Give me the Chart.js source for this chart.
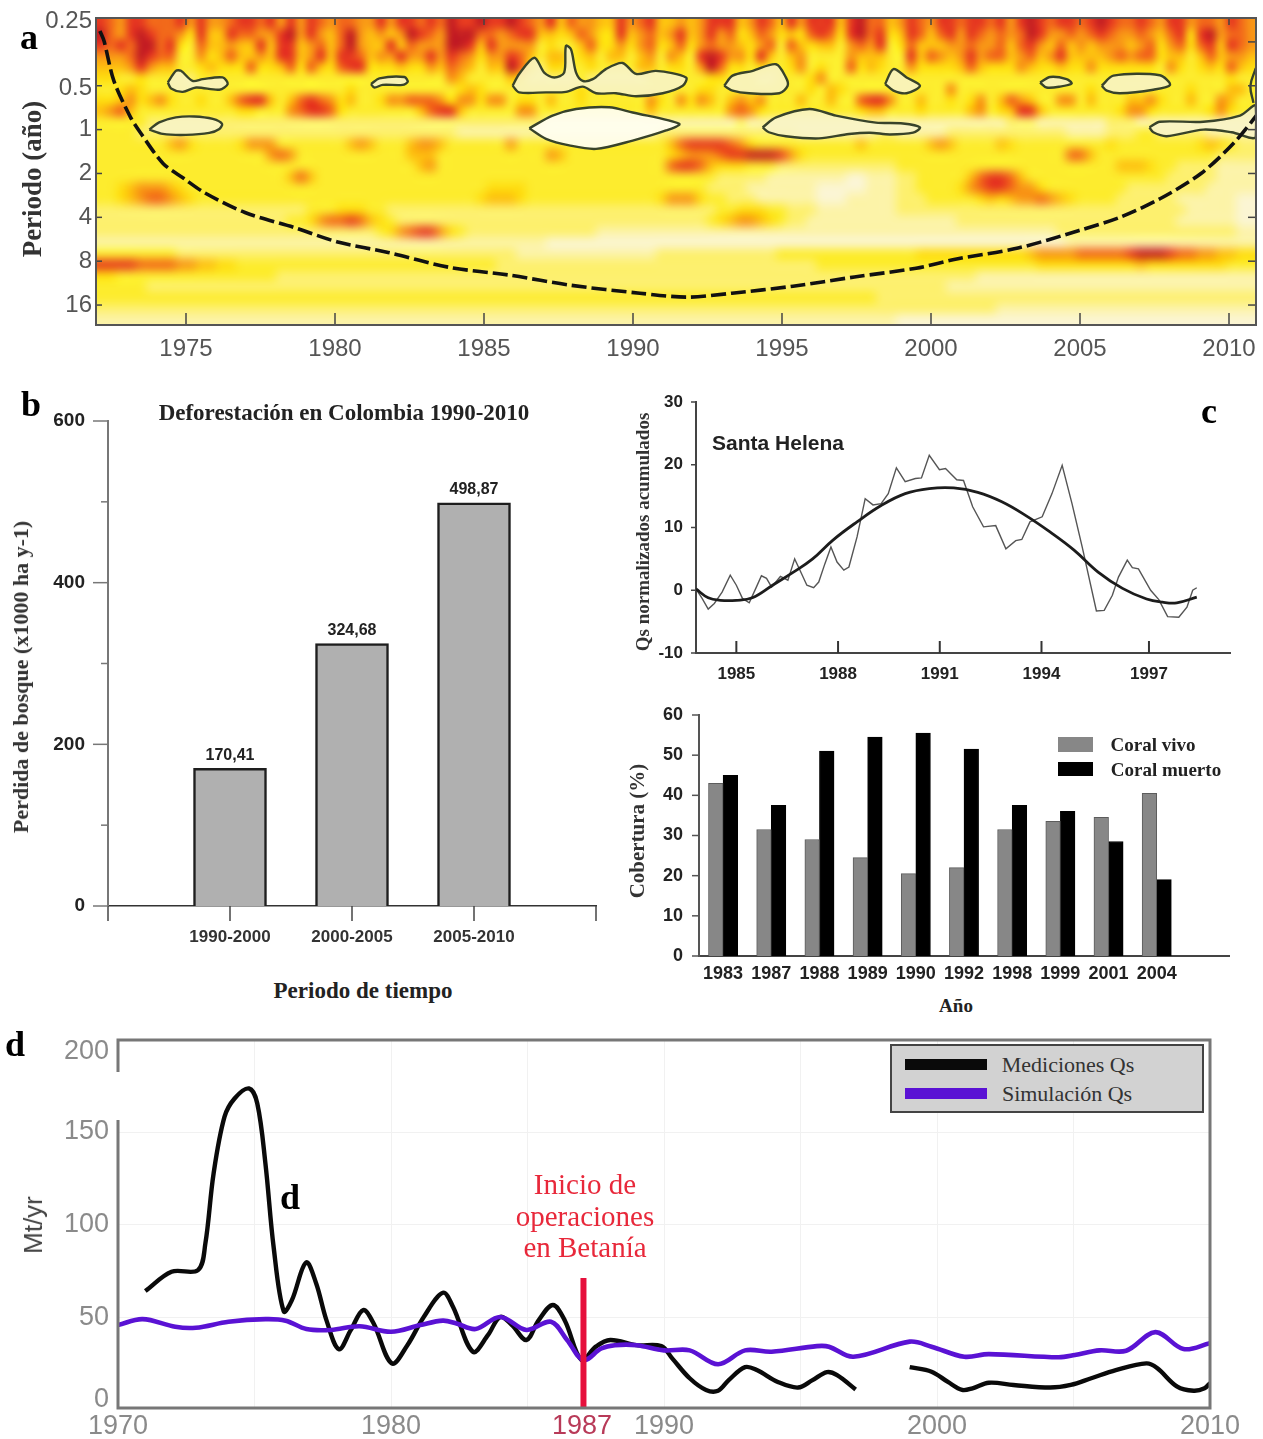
<!DOCTYPE html>
<html lang="es">
<head>
<meta charset="utf-8">
<title>Figura Qs Magdalena</title>
<script src="https://cdn.jsdelivr.net/npm/chart.js@4"></script>
<style>
    html, body { margin: 0; padding: 0; background: #fff; }
    #page { position: relative; width: 1263px; height: 1439px; overflow: hidden; background: #fff; filter: blur(0.5px); }
    #page canvas { position: absolute; }
    .txt { position: absolute; white-space: nowrap; transform: translate(-50%, -50%); line-height: 1; }
    .serif { font-family: "Liberation Serif", serif; }
    .sans { font-family: "Liberation Sans", sans-serif; }
    .bold { font-weight: bold; }
    #patch { position: absolute; left: 0; top: 1072px; width: 121px; height: 48px; background: #fff; }
    #legendD { position: absolute; left: 890px; top: 1044px; width: 310px; height: 65px; background: #d2d2d2; border: 2px solid #444; }
    .swatch { position: absolute; }
</style>
</head>
<body>
<div id="page">
    <canvas id="chartA" width="1263" height="370" style="left:0;top:0"></canvas>
    <canvas id="chartB" width="620" height="560" style="left:0;top:400px"></canvas>
    <canvas id="chartC1" width="643" height="300" style="left:620px;top:390px"></canvas>
    <canvas id="chartC2" width="643" height="290" style="left:620px;top:700px"></canvas>
    <canvas id="chartD" width="1263" height="409" style="left:0;top:1030px"></canvas>
    <div id="patch"></div>
    <div id="legendD"></div>
</div>
<script>
/* a: wavelet power, top six rows by column (18-84 px band), digit 0-9 = colour class */
const heatTop = [
    '898654','777654','668653','887763','899984','789863','777753','778753','864333','643332',
    '887643','655453','655543','786743','875543','875573','768643','865543','688853','898873',
    '665543','886673','767853','655543','777873','799883','666783','655543','865643','658643',
    '865853','897643','786643','876863','766653','999876','899765','898653','975433','878653',
    '866653','976895','886774','786542','653322','854542','543542','753332','675433','667542',
    '544332','544532','886532','654332','766552','877653','554333','565643','687543','554333',
    '666863','887994','866874','876643','545643','654433','876842','767532','543333','857543',
    '645663','874334','885346','875333','543333','886673','997543','776553','788543','543333',
    '654333','887863','775543','655743','875643','886543','766653','887873','876653','766743',
    '877743','665543','877663','998753','886543','765643','867853','875543','766543','875563',
    '986543','876643','766743','765643','876743','767743','654433','876563','887543','644333',
    '787543','798753','665543','878674','777653','666543'
];
/* rows below the band, 84-326 px, 11 px each, 116 columns */
const heatRows = [
    '3345433333 3333333333 3333343333 3333334543 3333333343 3333333333 4433333333 3435433333 3333363333 3333333334 3333333334 333553',
    '4456456433 4335788535 7876453346 6777646646 6344353343 3333364364 6535656333 5335337886 3353343463 5765336635 3335564335 336533',
    '5675333333 3333443336 7887433333 3357885333 3366333333 3333353333 3336764333 3333334553 3343333563 4588533333 3346643333 346433',
    '3333322222 2222222222 2222222222 2222222222 2222211111 1111111111 1111211111 1111111111 1111111111 1222111111 1222111111 111111',
    '3333222222 2222222222 2222222222 2222221111 1111111111 1111112222 2222222222 1111111122 1111122222 2222222111 1222332222 211111',
    '3333333564 3333466633 3333356533 3566533333 3633333333 3333333578 8887643333 3333335333 3335653333 5433333333 3433333333 454322',
    '3333333333 3333333676 3333333333 3555333333 3333365333 3333333456 6678899986 4333333333 3333333333 3333333775 3333333333 332222',
    '3333333333 3333333333 3333333333 3356333333 3333333333 3333333788 7544433322 2222222222 3333333333 3333333333 3355543322 221111',
    '3333333333 3333333335 7533333333 3333333333 3333333333 3333333333 3322222111 1111100111 2233333578 8753333333 3333333222 221111',
    '3345666543 3333333333 3333333333 3333333334 4443333333 3333333333 3222211111 1100000111 2233334678 8766433333 3332222222 211111',
    '3345677654 3333333333 3333333333 3333333345 5543333333 3333334666 4332221111 1100011111 2223333345 4566765433 3322222211 111100',
    '2222222222 2222222222 2333444332 2222222222 2222222222 2222222222 2233444332 2211111111 2222222222 2222222222 2222222221 111100',
    '2222222222 2222222223 3467787543 2222222222 2222222222 2222222222 2345665432 2111111111 1111112222 2222222222 2222222211 111100',
    '2222222222 2222222222 2222222234 6788643222 2222222222 1111111111 1111111111 1111111111 1111111111 1111112222 2222222222 222211',
    '1111111111 1111111111 1111111111 1111111111 1111100000 0000000000 0000000000 0000000000 0000000000 0000000111 1111111111 111111',
    '3333333322 2222222222 2222222222 2222222222 2211111111 1111112222 2222222233 3333333333 3344444444 4445666677 7778999877 665544',
    '8888777766 5544333333 3333333333 3333333333 2222222222 2222222222 2222222222 2233333333 3333333333 3333444444 4444544444 444333',
    '4433333333 3333333322 2222222222 2222222222 2222222222 2222222222 2222222222 2222222222 2222222211 1111111111 1111111111 111111',
    '3333322222 2222222222 2222222222 2222222222 2222222222 2222222222 2222222222 2222222222 2222211111 1111111111 1111111111 111111',
    '3333333333 3333333333 3333333333 3333333333 3333333333 3333333333 3333333333 3333333322 2222222222 2222222222 2222222222 222222',
    '2222222222 2222222222 2222222222 2222222222 2222222222 2222222222 2222222222 2222222222 2222222222 1111111111 1111111111 111111',
    '1111111111 1111111111 1111111111 1111111111 1111111111 1111111111 1111111111 1111111111 0000000000 0000000000 0000000000 000000'
];
const heatColors = ['#fbf5d2', '#fcf3a8', '#fdf06e', '#fdec2e', '#fedd10', '#fdbf10', '#f89616', '#f2681a', '#e63a20', '#c41f22'];

/* cone of influence, year and log2(period) */
const coiYears = [1972.11, 1972.25, 1972.58, 1973.14, 1973.49, 1974.23, 1974.92, 1975.6, 1976.98, 1978.62, 1980.13, 1981.78, 1983.83, 1985.87, 1987.92, 1990.23, 1991.81, 1993.32, 1995.37, 1997.43, 1999.5, 2000.86, 2002.92, 2004.97, 2006.34, 2007.7, 2009.06, 2010.17, 2010.97];
const coiLogP = [-2.25, -2.02, -1.11, -0.28, 0.09, 0.77, 1.11, 1.43, 1.89, 2.23, 2.57, 2.8, 3.14, 3.32, 3.55, 3.73, 3.82, 3.73, 3.57, 3.36, 3.16, 2.95, 2.7, 2.3, 2, 1.57, 1, 0.3, -0.36];

/* significance contours, [year, log2(period)] */
const contour1 = [[1974.39,-1.075],[1974.66,-1.34],[1974.83,-1.34],[1975.22,-1.11],[1975.56,-1.15],[1976.23,-1.19],[1976.4,-1.04],[1976.12,-0.91],[1975.34,-0.96],[1974.89,-0.86],[1974.5,-0.94],[1974.39,-1.075]];
const contour2 = [[1981.21,-1.04],[1981.49,-1.17],[1982.33,-1.2],[1982.44,-1.09],[1982.27,-1.02],[1981.6,-1.02],[1981.32,-0.96],[1981.21,-1.04]];
const contour3 = [[1973.77,0],[1974.1,-0.166],[1974.66,-0.28],[1975.28,-0.3],[1975.9,-0.243],[1976.21,-0.13],[1976.12,-0.016],[1975.78,0.075],[1975,0.12],[1974.22,0.098],[1973.77,0]];
const contour4 = [[1985.96,-1],[1986.18,-1.27],[1986.69,-1.64],[1987.02,-1.3],[1987.36,-1.19],[1987.69,-1.3],[1987.75,-1.91],[1987.92,-1.83],[1988.09,-1.3],[1988.31,-1.11],[1988.65,-1.15],[1989.09,-1.38],[1989.65,-1.52],[1990.1,-1.27],[1990.77,-1.34],[1991.78,-1.19],[1991.67,-1],[1991,-0.83],[1990.1,-0.76],[1989.43,-0.83],[1988.76,-0.83],[1988.31,-0.98],[1987.75,-0.86],[1987.08,-0.85],[1986.18,-0.85],[1985.96,-1]];
const contour5 = [[1986.52,-0.03],[1987.3,-0.32],[1988.09,-0.47],[1989.2,-0.51],[1989.99,-0.39],[1991.55,-0.13],[1991.11,0.02],[1989.99,0.25],[1988.76,0.44],[1987.86,0.36],[1987.08,0.21],[1986.52,-0.03]];
const contour6 = [[1993.06,-1],[1993.34,-1.23],[1994.02,-1.34],[1994.8,-1.49],[1995.13,-1.19],[1995.19,-1],[1994.91,-0.83],[1993.9,-0.83],[1993.34,-0.89],[1993.06,-1]];
const contour7 = [[1994.35,-0.05],[1994.8,-0.28],[1995.92,-0.47],[1996.81,-0.32],[1998.15,-0.16],[1999.06,-0.14],[1999.63,-0.05],[1999.4,0.07],[1998.62,0.11],[1997.95,0.07],[1997.25,0.1],[1996.24,0.2],[1995.13,0.15],[1994.56,0.06],[1994.35,-0.05]];
const contour8 = [[1998.46,-1.04],[1998.74,-1.38],[1999.18,-1.19],[1999.63,-1],[1999.18,-0.83],[1998.74,-0.89],[1998.46,-1.04]];
const contour9 = [[2003.66,-1.075],[2004,-1.2],[2004.55,-1.15],[2004.72,-1.05],[2004.33,-0.98],[2003.88,-0.96],[2003.66,-1.075]];
const contour10 = [[2005.73,-1],[2006.12,-1.23],[2007.68,-1.24],[2008.02,-1.02],[2007.46,-0.91],[2006.34,-0.83],[2005.9,-0.89],[2005.73,-1]];
const contour11 = [[2007.33,-0.05],[2007.68,-0.18],[2009.14,-0.18],[2010.37,-0.32],[2010.9,-0.55],[2010.9,0.175],[2010.09,0.06],[2009.14,0],[2007.91,0.15],[2007.46,0.06],[2007.33,-0.05]];
const contour12 = [[2010.9,-1.4],[2010.72,-1],[2010.82,-0.61]];
const contoursSmall = [contour1, contour2, contour3, contour4, contour6, contour7, contour8, contour9, contour10, contour11];

const yearTicksA = [1975, 1980, 1985, 1990, 1995, 2000, 2005, 2010];
const periodTicks = [-2.47, -0.95, 0, 1, 2, 3, 4];
const periodLabels = ['0.25', '0.5', '1', '2', '4', '8', '16'];

/* b */
const deforestPeriods = ['', '1990-2000', '2000-2005', '2005-2010', ''];
const deforestValues = [null, 170.41, 324.68, 498.87, null];

/* c, Santa Helena */
const qsYears = [1983.81,1983.99,1984.17,1984.35,1984.58,1984.82,1985,1985.18,1985.38,1985.59,1985.74,1985.89,1986.04,1986.3,1986.52,1986.72,1986.9,1987.08,1987.28,1987.43,1987.61,1987.79,1987.97,1988.17,1988.32,1988.56,1988.8,1989.03,1989.27,1989.48,1989.72,1989.98,1990.28,1990.46,1990.69,1990.99,1991.17,1991.5,1991.7,1991.97,1992.29,1992.65,1992.95,1993.24,1993.42,1993.66,1994.02,1994.31,1994.61,1994.9,1995.2,1995.62,1995.85,1996.09,1996.27,1996.53,1996.68,1996.86,1997.22,1997.46,1997.72,1998.05,1998.29,1998.46,1998.58];
const qsNorm = [0.2,-1.3,-3,-2.1,-0.3,2.4,0.8,-1.3,-2,0.5,2.3,1.9,0.5,2.2,1.6,5,2.9,0.8,0.4,1.3,4.2,6.9,4.5,3.2,3.7,8.5,14.6,13.6,13.8,15.4,19.5,17.3,17.8,17.9,21.5,19.2,19.4,17.6,17.5,13.3,10.1,10.3,6.6,7.9,8.1,10.9,11.7,15.4,19.9,13.8,6.9,-3.3,-3.2,-0.8,2.1,4.8,3.6,3.4,0,-1.5,-4.2,-4.3,-2.7,0,0.4];
const trendYears = [1983.81,1984.17,1984.53,1985,1985.47,1986.07,1986.66,1987.25,1987.85,1988.56,1989.27,1989.98,1990.69,1991.41,1992.12,1992.83,1993.54,1994.25,1994.96,1995.67,1996.39,1997.1,1997.57,1997.99,1998.58];
const trendNorm = [0.2,-1.2,-1.6,-1.6,-1.2,0.8,2.8,5,8,10.9,13.5,15.4,16.2,16.3,15.6,14.1,11.9,9.3,6.4,2.9,0.3,-1.4,-1.9,-2,-1.1];
const qsYearTicks = [1985, 1988, 1991, 1994, 1997.17];
const qsYearLabels = ['1985', '1988', '1991', '1994', '1997'];

/* c, coral */
const coralYears = ['1983', '1987', '1988', '1989', '1990', '1992', '1998', '1999', '2001', '2004', ''];
const coralVivo = [43, 31.5, 29, 24.5, 20.5, 22, 31.5, 33.5, 34.5, 40.5, null];
const coralMuerto = [45, 37.5, 51, 54.5, 55.5, 51.5, 37.5, 36, 28.5, 19, null];

/* d */
const medYears = [1971,1971.96,1972.93,1973.2,1973.5,1973.9,1974.27,1974.8,1975.1,1975.4,1975.7,1976.07,1976.37,1976.89,1977.26,1977.64,1978.09,1978.53,1978.98,1979.36,1980.03,1980.6,1981.2,1981.9,1982.27,1983,1983.55,1984,1984.43,1984.96,1985.4,1985.93,1986.37,1986.98,1987.5,1988.03,1989,1989.9,1990.3,1990.94,1991.54,1991.98,1992.37,1992.97,1993.4,1994.17,1994.91,1995.44,1995.97,1996.34,1997.02,1998,1999,1999.8,2000.4,2000.92,2001.3,2001.9,2002.8,2004.14,2004.9,2005.65,2006.55,2007.67,2008.06,2008.8,2009.4,2009.8,2010];
const medQs = [62.9,73.3,74.2,88.5,126,156.6,166.5,171.9,164,131.6,86.7,52,58,78.3,67,47,31.7,42,52.7,45.6,24,33.8,49,62,54.5,30.3,39.2,49,44.6,36.6,47,55.4,47,25.8,33,36.6,33.8,33.3,26.7,16,9.7,9.3,15,22,20.4,14,11,15,19.3,17.7,10,null,22,19.5,14,9.7,10.6,13.6,12.4,11,12.4,16,20.4,24,21.5,11.5,9.3,10.6,13.4];
const simYears = [1970,1970.9,1972.1,1972.85,1974.05,1975.4,1976.14,1976.9,1977.8,1978.85,1980,1981.07,1981.9,1982.4,1983.1,1984,1984.96,1985.86,1986.45,1987.05,1987.7,1988.2,1989,1990,1990.94,1991.98,1992.97,1993.94,1995.6,1996.04,1996.94,1999,1999.8,2001,2001.9,2004.45,2005.05,2005.95,2006.93,2008,2009.03,2010];
const simQs = [44.6,47.8,43.7,43.2,46.4,47.8,47,42.5,42,44,41,44.6,47,45.5,42.5,49,42,46.4,36.6,25.8,32,33.8,33.8,31,31,23.5,31,30.3,33.3,33,27.6,35.7,33,27.6,29,27.3,28.5,31,30.8,40.8,31.7,34.9];
const betaniaYears = [1987.05, 1987.05];
const betaniaQs = [0, 70];
const yearTicksD = [1970, 1975, 1980, 1985, 1987, 1990, 1995, 2000, 2005, 2010];
const yearLabelsD = ['1970', '', '1980', '', '1987', '1990', '', '2000', '', '2010'];
const qsTicksD = [4.5, 48.5, 98.5, 148.5, 192];
const qsLabelsD = ['0', '50', '100', '150', '200'];
const legendNamesD = ['Mediciones Qs', 'Simulación Qs'];

const SANS = '"Liberation Sans", sans-serif';
const BLACK_LINE = '#0a0a0a';
const PURPLE_LINE = '#5a12d4';

/* short tick marks per canvas; negative len points into the plot */
const tickSpecs = {
    chartA: [
        { scale: 'x', side: 'bottom', len: -12, color: '#444', width: 1.5 },
        { scale: 'x', side: 'top', len: -7, color: '#444', width: 1.5 },
        { scale: 'y', side: 'left', len: -6, color: '#444', width: 1.5, values: [-1, 0, 1, 2, 3, 4] },
        { scale: 'y', side: 'right', len: -8, color: '#444', width: 1.5, values: [-2, -1, 0, 1, 2, 3, 4] }
    ],
    chartB: [
        { scale: 'x', side: 'bottom', len: 15, color: '#444', width: 1.5 },
        { scale: 'y', side: 'left', len: 15, minorLen: 7, color: '#777', width: 1.5 }
    ],
    chartC1: [
        { scale: 'x', side: 'bottom', len: -12, color: '#333', width: 2 },
        { scale: 'y', side: 'left', len: 5, color: '#444', width: 1.5 }
    ],
    chartC2: [
        { scale: 'y', side: 'left', len: 7, color: '#555', width: 1.5 }
    ]
};

Chart.defaults.animation = false;
Chart.defaults.events = [];
Chart.defaults.plugins.legend.display = false;
Chart.defaults.plugins.tooltip.enabled = false;

function zip(xs, ys) {
    return xs.map((x, i) => ({ x: x, y: ys[i] }));
}

function pairs(list) {
    return list.map(p => ({ x: p[0], y: p[1] }));
}

function setTicks(values) {
    return scale => { scale.ticks = values.map(v => ({ value: v })); };
}

/* fixed axis box, no room reserved for half tick labels */
function fixWidth(w) {
    return s => { s.width = w; s.paddingTop = 0; s.paddingBottom = 0; };
}

function fixHeight(h) {
    return s => { s.height = h; s.paddingLeft = 0; s.paddingRight = 0; };
}

/* one pixel per heat cell, scaled up with smoothing, then softened */
const heatBlur = {
    id: 'heatBlur',
    beforeDatasetDraw(chart, args) {
        const dataset = chart.data.datasets[args.index];
        if (dataset.label !== 'heat') return;
        const area = chart.chartArea;
        const pts = args.meta.data;
        const cols = heatTop.length;
        const rows = pts.length / cols;
        const low = document.createElement('canvas');
        low.width = cols;
        low.height = rows;
        const lc = low.getContext('2d');
        pts.forEach((pt, i) => {
            lc.fillStyle = heatColors[dataset.data[i].v];
            lc.fillRect(i % cols, Math.floor(i / cols), 1, 1);
        });
        const w = pts[1].x - pts[0].x;
        const h = pts[cols].y - pts[0].y;
        const left = pts[0].x - w / 2;
        const top = pts[0].y - h / 2;
        const ctx = chart.ctx;
        ctx.save();
        ctx.beginPath();
        ctx.rect(area.left, area.top, area.width, area.height);
        ctx.clip();
        ctx.imageSmoothingEnabled = false;
        ctx.drawImage(low, left, top, w * cols, h * rows);
        ctx.imageSmoothingEnabled = true;
        ctx.imageSmoothingQuality = 'high';
        [[0, 0], [-2, 0], [2, 0], [0, -2], [0, 2]].forEach((d, i) => {
            ctx.globalAlpha = 1 / (i + 1);
            ctx.drawImage(low, left + d[0], top + d[1], w * cols, h * rows);
        });
        /* softer below the fine stripes */
        ctx.beginPath();
        ctx.rect(area.left, top + h * 10, area.width, area.bottom - (top + h * 10));
        ctx.clip();
        [[0, 0], [-5, 0], [5, 0], [0, -4], [0, 4], [-3, -3], [3, 3], [-3, 3], [3, -3]].forEach((d, i) => {
            ctx.globalAlpha = 1 / (i + 1);
            ctx.drawImage(low, left + d[0], top + d[1], w * cols, h * rows);
        });
        ctx.restore();
        return false;
    }
};

const tickMarks = {
    id: 'tickMarks',
    afterDatasetsDraw(chart) {
        const marks = tickSpecs[chart.canvas.id] || [];
        const ctx = chart.ctx;
        const area = chart.chartArea;
        ctx.save();
        marks.forEach(m => {
            const scale = chart.scales[m.scale];
            ctx.strokeStyle = m.color;
            ctx.lineWidth = m.width;
            const n = m.values ? m.values.length : scale.ticks.length;
            for (let i = 0; i < n; i++) {
                const p = m.values ? scale.getPixelForValue(m.values[i]) : scale.getPixelForTick(i);
                const len = m.minorLen && i % 2 === 1 ? m.minorLen : m.len;
                ctx.beginPath();
                if (m.side === 'bottom') { ctx.moveTo(p, area.bottom); ctx.lineTo(p, area.bottom + len); }
                if (m.side === 'top') { ctx.moveTo(p, area.top); ctx.lineTo(p, area.top - len); }
                if (m.side === 'left') { ctx.moveTo(area.left, p); ctx.lineTo(area.left - len, p); }
                if (m.side === 'right') { ctx.moveTo(area.right, p); ctx.lineTo(area.right + len, p); }
                ctx.stroke();
            }
        });
        ctx.restore();
    }
};

const frameBox = {
    id: 'frameBox',
    afterDatasetsDraw(chart, args, opts) {
        if (!opts.color) return;
        const a = chart.chartArea;
        chart.ctx.save();
        chart.ctx.strokeStyle = opts.color;
        chart.ctx.lineWidth = opts.width;
        chart.ctx.strokeRect(a.left, a.top, a.width, a.height);
        chart.ctx.restore();
    }
};

const barValues = {
    id: 'barValues',
    afterDatasetsDraw(chart, args, opts) {
        if (!opts.show) return;
        const ctx = chart.ctx;
        const meta = chart.getDatasetMeta(0);
        ctx.save();
        ctx.font = 'bold 16px ' + SANS;
        ctx.fillStyle = '#222';
        ctx.textAlign = 'center';
        ctx.textBaseline = 'middle';
        meta.data.forEach((bar, i) => {
            const v = chart.data.datasets[0].data[i];
            if (v !== null) ctx.fillText(v.toFixed(2).replace('.', ','), bar.x, bar.y - 13);
        });
        ctx.restore();
    }
};

Chart.register(heatBlur, tickMarks, frameBox, barValues);

/* Panel a */
function heatData() {
    const pts = [];
    const stepYear = 10 / 29.8;
    const stepLog = 0.25;
    const rows = [];
    for (let r = 0; r < 6; r++) rows.push(heatTop.map(col => Number(col[r])));
    heatRows.forEach(row => rows.push(row.replace(/ /g, '').split('').map(Number)));
    rows.forEach((row, r) => {
        row.forEach((v, c) => {
            pts.push({ x: 1971.98 + (c + 0.5) * stepYear, y: -2.545 + (r + 0.5) * stepLog, v: v });
        });
    });
    return pts;
}

function contourSet(list, fillColor) {
    return {
        type: 'scatter', data: pairs(list), showLine: true, tension: 0.3, pointRadius: 0,
        borderColor: '#38432a', borderWidth: 2.4, fill: 'shape', backgroundColor: fillColor, order: 5
    };
}

new Chart(document.getElementById('chartA'), {
    type: 'scatter',
    data: {
        datasets: [
            { label: 'heat', data: heatData(), pointRadius: 0, order: 100 },
            contourSet(contour5, 'rgba(255,254,240,0.93)')
        ].concat(contoursSmall.map(c => contourSet(c, 'rgba(248,244,200,0.88)')))
         .concat([
            { data: pairs(contour12), showLine: true, tension: 0.4, pointRadius: 0, borderColor: '#38432a', borderWidth: 2.4, order: 5 },
            { data: zip(coiYears, coiLogP), showLine: true, tension: 0.3, pointRadius: 0, borderColor: '#111', borderWidth: 3.6, borderDash: [15, 5], order: 1 }
         ])
    },
    options: {
        responsive: false,
        layout: { padding: { left: 0, right: 7, top: 18, bottom: 0 } },
        scales: {
            x: {
                min: 1971.98, max: 2010.906,
                afterBuildTicks: setTicks(yearTicksA),
                afterFit: fixHeight(45),
                grid: { display: false, drawTicks: false },
                border: { display: false },
                ticks: { callback: v => String(v), color: '#555', font: { family: SANS, size: 24 }, padding: 10, maxRotation: 0, autoSkip: false }
            },
            y: {
                min: -2.545, max: 4.455, reverse: true,
                afterBuildTicks: setTicks(periodTicks),
                afterFit: fixWidth(96),
                grid: { display: false, drawTicks: false },
                border: { display: false },
                ticks: { callback: (v, i) => periodLabels[i], color: '#555', font: { family: SANS, size: 24 }, padding: 4, autoSkip: false }
            }
        },
        plugins: {
            frameBox: { color: '#555', width: 2 }
        }
    }
});

/* Panel b */
new Chart(document.getElementById('chartB'), {
    type: 'bar',
    data: {
        labels: deforestPeriods,
        datasets: [{ data: deforestValues, backgroundColor: '#b0b0b0', borderColor: '#1e1e1e', borderWidth: 2.5, barThickness: 73 }]
    },
    options: {
        responsive: false,
        layout: { padding: { left: 0, right: 24, top: 21, bottom: 0 } },
        scales: {
            x: {
                offset: false,
                afterFit: fixHeight(54),
                grid: { display: false, drawTicks: false, offset: false },
                border: { display: true, color: '#333', width: 1.5 },
                ticks: { color: '#333', font: { family: SANS, size: 17, weight: 'bold' }, padding: 21, maxRotation: 0, autoSkip: false }
            },
            y: {
                min: 0, max: 600,
                afterFit: fixWidth(108),
                grid: { display: false, drawTicks: false },
                border: { display: true, color: '#777', width: 2 },
                ticks: { stepSize: 100, callback: v => (v % 200 === 0 ? String(v) : ''), color: '#222', font: { family: SANS, size: 19, weight: 'bold' }, padding: 23 }
            }
        },
        plugins: {
            barValues: { show: true }
        }
    }
});

/* Panel c, normalised Qs */
new Chart(document.getElementById('chartC1'), {
    type: 'scatter',
    data: {
        datasets: [
            { data: zip(qsYears, qsNorm), showLine: true, pointRadius: 0, borderColor: '#555', borderWidth: 1.4, order: 2 },
            { data: zip(trendYears, trendNorm), showLine: true, tension: 0.4, pointRadius: 0, borderColor: '#1c1c1c', borderWidth: 2.8, order: 1 }
        ]
    },
    options: {
        responsive: false,
        layout: { padding: { left: 0, right: 33, top: 12, bottom: 0 } },
        scales: {
            x: {
                min: 1983.81, max: 1999.56,
                afterBuildTicks: setTicks(qsYearTicks),
                afterFit: fixHeight(37),
                grid: { display: false, drawTicks: false },
                border: { display: true, color: '#444', width: 2 },
                ticks: { callback: (v, i) => qsYearLabels[i], color: '#222', font: { family: SANS, size: 17, weight: 'bold' }, padding: 11, maxRotation: 0, autoSkip: false }
            },
            y: {
                min: -10, max: 30,
                afterFit: fixWidth(76),
                grid: { display: false, drawTicks: false },
                border: { display: true, color: '#444', width: 2 },
                ticks: { stepSize: 10, color: '#222', font: { family: SANS, size: 17, weight: 'bold' }, padding: 13 }
            }
        }
    }
});

/* Panel c, coral cover */
new Chart(document.getElementById('chartC2'), {
    type: 'bar',
    data: {
        labels: coralYears,
        datasets: [
            { label: 'Coral vivo', data: coralVivo, backgroundColor: '#878787', borderColor: '#5c5c5c', borderWidth: 1, barThickness: 14.6 },
            { label: 'Coral muerto', data: coralMuerto, backgroundColor: '#000', borderColor: '#000', borderWidth: 1, barThickness: 14.6 }
        ]
    },
    options: {
        responsive: false,
        layout: { padding: { left: 0, right: 34, top: 15, bottom: 0 } },
        scales: {
            x: {
                afterFit: fixHeight(34),
                grid: { display: false, drawTicks: false },
                border: { display: true, color: '#444', width: 2 },
                ticks: { color: '#222', font: { family: SANS, size: 18, weight: 'bold' }, padding: 7, maxRotation: 0, autoSkip: false }
            },
            y: {
                min: 0, max: 60,
                afterFit: fixWidth(79),
                grid: { display: false, drawTicks: false },
                border: { display: true, color: '#555', width: 2 },
                ticks: { stepSize: 10, color: '#222', font: { family: SANS, size: 18, weight: 'bold' }, padding: 16 }
            }
        }
    }
});

/* Panel d */
new Chart(document.getElementById('chartD'), {
    type: 'scatter',
    data: {
        datasets: [
            { data: zip(betaniaYears, betaniaQs), showLine: true, pointRadius: 0, borderColor: '#e6103c', borderWidth: 6, order: 1 },
            { data: zip(simYears, simQs), showLine: true, tension: 0.35, pointRadius: 0, borderColor: PURPLE_LINE, borderWidth: 4.6, order: 2 },
            { data: zip(medYears, medQs), showLine: true, tension: 0.35, pointRadius: 0, borderColor: BLACK_LINE, borderWidth: 4.4, order: 3 }
        ]
    },
    options: {
        responsive: false,
        layout: { padding: { left: 0, right: 53, top: 10, bottom: 0 } },
        scales: {
            x: {
                min: 1970, max: 2010,
                afterBuildTicks: setTicks(yearTicksD),
                afterFit: fixHeight(31),
                grid: { drawTicks: false, color: c => (c.tick && c.tick.value === 1987 ? 'rgba(0,0,0,0)' : '#f1f1f1') },
                border: { display: false },
                ticks: {
                    callback: (v, i) => yearLabelsD[i],
                    color: c => (c.tick.value === 1987 ? '#b83a58' : '#8a8a8a'),
                    font: { family: SANS, size: 27 }, padding: 2, maxRotation: 0, autoSkip: false
                }
            },
            y: {
                min: 0, max: 198,
                afterBuildTicks: setTicks(qsTicksD),
                afterFit: fixWidth(118),
                grid: { drawTicks: false, color: c => (c.tick && qsLabelsD[c.index] !== '0' && qsLabelsD[c.index] !== '200' ? '#f1f1f1' : 'rgba(0,0,0,0)') },
                border: { display: false },
                ticks: { callback: (v, i) => qsLabelsD[i], color: '#8a8a8a', font: { family: SANS, size: 27 }, padding: 9, autoSkip: false }
            }
        },
        plugins: {
            frameBox: { color: '#777', width: 3 }
        }
    }
});

/* Text placed as in the figure */
function addText(text, x, y, cls, size, color, rotate) {
    const el = document.createElement('div');
    el.className = 'txt ' + cls;
    el.textContent = text;
    el.style.left = x + 'px';
    el.style.top = y + 'px';
    el.style.fontSize = size + 'px';
    el.style.color = color;
    if (rotate) el.style.transform = 'translate(-50%, -50%) rotate(-90deg)';
    document.getElementById('page').appendChild(el);
}

addText('a', 29, 37, 'serif bold', 36, '#000');
addText('b', 31, 404, 'serif bold', 36, '#000');
addText('c', 1209, 411, 'serif bold', 36, '#000');
addText('d', 15, 1044, 'serif bold', 36, '#000');
addText('d', 290, 1197, 'serif bold', 36, '#000');

addText('Periodo (año)', 32, 179, 'serif bold', 27, '#333', true);
addText('Deforestación en Colombia 1990-2010', 344, 412, 'serif bold', 23, '#222');
addText('Perdida de bosque (x1000 ha y-1)', 21, 677, 'serif bold', 22, '#333', true);
addText('Periodo de tiempo', 363, 990, 'serif bold', 23, '#222');
addText('Qs normalizados acumulados', 642, 532, 'serif bold', 19, '#333', true);
addText('Santa Helena', 778, 442, 'sans bold', 21, '#222');
addText('Cobertura (%)', 637, 831, 'serif bold', 21, '#333', true);
addText('Año', 956, 1005, 'serif bold', 19, '#222');
addText('Mt/yr', 33, 1225, 'sans', 26, '#444', true);
addText('Inicio de', 585, 1184, 'serif', 29, '#e8283a');
addText('operaciones', 585, 1216, 'serif', 29, '#e8283a');
addText('en Betanía', 585, 1247, 'serif', 29, '#e8283a');

/* Legends */
function addSwatch(parent, x, y, w, h, color) {
    const el = document.createElement('div');
    el.className = 'swatch';
    el.style.cssText = `left:${x}px;top:${y}px;width:${w}px;height:${h}px;background:${color}`;
    parent.appendChild(el);
}

const page = document.getElementById('page');
addSwatch(page, 1058, 737, 35, 15, '#878787');
addSwatch(page, 1058, 762, 35, 14, '#000');
addText('Coral vivo', 1153, 744, 'serif bold', 19, '#222');
addText('Coral muerto', 1166, 769, 'serif bold', 19, '#222');

const legendD = document.getElementById('legendD');
addSwatch(legendD, 13, 13, 82, 11, BLACK_LINE);
addSwatch(legendD, 13, 42, 82, 11, PURPLE_LINE);
addText(legendNamesD[0], 1068, 1065, 'serif', 22, '#333');
addText(legendNamesD[1], 1067, 1094, 'serif', 22, '#333');
</script>
</body>
</html>
